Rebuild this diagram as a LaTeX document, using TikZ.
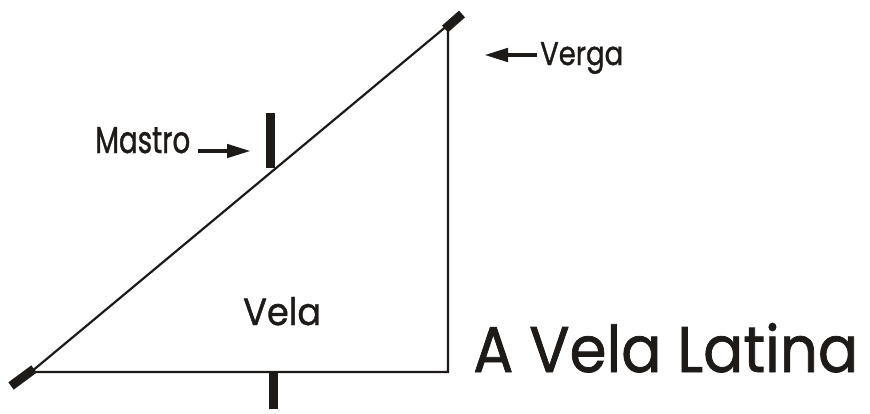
\documentclass[tikz,border=0pt]{standalone}
\usepackage{fontspec}
\setmainfont{Poppins}
\newfontfamily\lblfont{Poppins}[FakeBold=1.2]
\usetikzlibrary{arrows.meta}
\definecolor{ink}{HTML}{1E1A18}
\tikzset{
  thin line/.style={draw=ink, line width=2.2pt},
  spar/.style={draw=ink, line width=9pt},
  pointer/.style={draw=ink, line width=4.5pt, -{Triangle[length=24pt,width=13pt]}},
  lbl/.style={text=ink, inner sep=0pt, anchor=base west, font=\lblfont}
}
\begin{document}
\begin{tikzpicture}[x=1pt,y=-1pt]
\useasboundingbox (0,0) rectangle (870,413);
% corners
\coordinate (bl) at (31,372);
\coordinate (br) at (448,372);
\coordinate (tr) at (448,25);
\coordinate (sparA) at (11,386);
\coordinate (sparB) at (34,369);
\coordinate (sparC) at (445,29);
\coordinate (sparD) at (462,14);
\coordinate (mastTop) at (270,113);
\coordinate (mastMid) at (270,168);
\coordinate (mastBot1) at (273,372);
\coordinate (mastBot2) at (273,409);
% sail
\draw[thin line] (bl) -- (tr) (bl) -- (br) -- (tr);
% spar ends
\draw[spar] (sparA) -- (sparB);
\draw[spar] (sparC) -- (sparD);
% mast
\draw[spar] (mastTop) -- (mastMid);
\draw[spar] (mastBot1) -- (mastBot2);
% labels
\node[lbl] (verga) at (540,65) {\resizebox{83pt}{23pt}{Verga}};
\node[lbl] (mastro) at (95,153) {\resizebox{95pt}{26pt}{Mastro}};
\node[lbl] (vela) at (243,325) {\resizebox{78pt}{28pt}{Vela}};
\node[lbl] (title) at (473,372) {\resizebox{385pt}{49pt}{A Vela Latina}};
\coordinate (vergaTip) at (484,55);
\coordinate (vergaTail) at (537,55);
\coordinate (mastroTip) at (251,151);
\coordinate (mastroTail) at (198,151);
\draw[pointer] (vergaTail) -- (vergaTip);
\draw[pointer] (mastroTail) -- (mastroTip);
\end{tikzpicture}
\end{document}
